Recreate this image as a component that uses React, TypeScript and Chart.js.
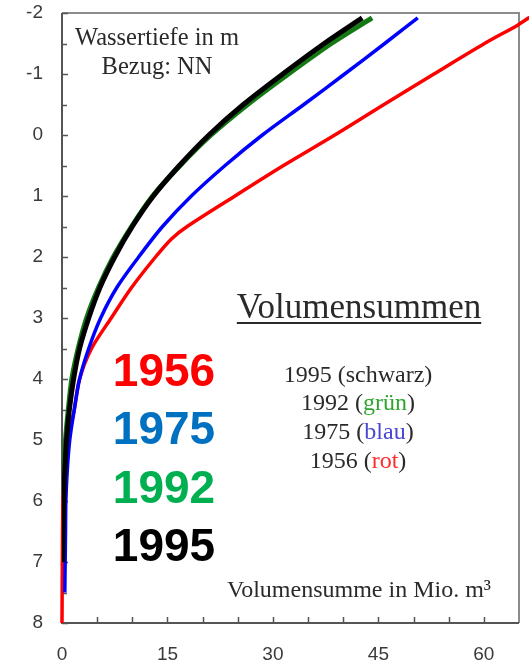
import React, { useEffect, useRef } from "react";
import { Chart, registerables } from "chart.js";

Chart.register(...registerables);

// Water depth (m, relative to NN) and cumulative volume (Mio. m³) per survey year
const depth1995 = [-1.92, -1.5, -1.0, -0.5, 0, 0.5, 1.0, 1.5, 2.0, 2.5, 3.0, 3.5, 4.0, 4.5, 5.0, 5.5, 6.0, 6.5, 7.0];
const volume1995 = [42.7, 37.3, 31.4, 25.8, 20.9, 16.7, 13.0, 10.0, 7.5, 5.4, 3.8, 2.5, 1.65, 1.05, 0.65, 0.4, 0.25, 0.15, 0.1];

const depth1992 = [-1.92, -1.5, -1.0, -0.5, 0, 0.5, 1.0, 1.5, 2.0, 2.5, 3.0, 3.5, 4.0, 4.5, 5.0, 5.5, 6.0];
const volume1992 = [44.1, 38.3, 32.2, 26.4, 21.2, 16.8, 12.9, 9.9, 7.3, 5.2, 3.5, 2.3, 1.4, 0.9, 0.5, 0.3, 0.15];

const depth1975 = [-1.92, -1.5, -1.0, -0.5, 0, 0.5, 1.0, 1.5, 2.0, 2.5, 3.0, 3.5, 4.0, 4.5, 5.0, 5.5, 6.0, 6.5, 7.0, 7.5];
const volume1975 = [50.6, 45.9, 40.2, 34.4, 28.5, 23.2, 18.4, 14.3, 10.9, 7.8, 5.5, 3.8, 2.5, 1.75, 1.1, 0.75, 0.55, 0.5, 0.45, 0.4];

const depth1956 = [-1.93, -1.8, -1.5, -1.0, -0.5, 0, 0.5, 1.0, 1.5, 1.7, 2.0, 2.5, 3.0, 3.5, 4.0, 4.5, 5.0, 5.5, 6.0, 7.0, 8.0];
const volume1956 = [66.5, 64.8, 60.1, 52.9, 45.8, 38.8, 31.5, 24.6, 17.8, 15.6, 13.3, 9.9, 7.0, 4.2, 2.5, 1.75, 0.9, 0.45, 0.15, 0.05, 0];

const xTickValues = [0, 15, 30, 45, 60];
const xMinorStep = 5;
const yMinorStep = 0.5;
const xMin = 0;
const xMax = 65;
const yMin = -2;
const yMax = 8;

const yearLabels = ["1956", "1975", "1992", "1995"];
const legendTitle = "Volumensummen";
const legendYears = ["1995", "1992", "1975", "1956"];
const legendNames = ["schwarz", "grün", "blau", "rot"];
const depthTitle = ["Wassertiefe in m", "Bezug: NN"];
const volumeTitle = "Volumensumme in Mio. m³";

const SERIF = '"Liberation Serif", "Times New Roman", serif';
const SANS = '"Liberation Sans", Arial, sans-serif';

const toPoints = (depths: number[], volumes: number[]) =>
  depths.map((d, i) => ({ x: volumes[i], y: d }));

const frameAndText = {
  id: "frameAndText",
  beforeDatasetsDraw(chart: any) {
    const { ctx, chartArea } = chart;
    const { left, right, top, bottom } = chartArea;
    const xs = chart.scales.x;
    const ys = chart.scales.y;
    ctx.save();
    // top and right border
    ctx.strokeStyle = "#8c8c8c";
    ctx.lineWidth = 2;
    ctx.beginPath();
    ctx.moveTo(left, top);
    ctx.lineTo(right, top);
    ctx.lineTo(right, bottom);
    ctx.stroke();
    // left and bottom axis lines
    ctx.strokeStyle = "#555";
    ctx.beginPath();
    ctx.moveTo(left, top);
    ctx.lineTo(left, bottom);
    ctx.lineTo(right, bottom);
    ctx.stroke();
    // inward tick marks
    ctx.lineWidth = 1.5;
    ctx.strokeStyle = "#555";
    ctx.beginPath();
    for (let v = yMin; v <= yMax + 1e-9; v += yMinorStep) {
      const py = Math.round(ys.getPixelForValue(v)) + 0.5;
      const major = Math.abs(v - Math.round(v)) < 1e-9;
      ctx.moveTo(left, py);
      ctx.lineTo(left + (major ? 6 : 5), py);
    }
    for (let v = xMin + xMinorStep; v < xMax; v += xMinorStep) {
      const px = Math.round(xs.getPixelForValue(v)) + 0.5;
      ctx.moveTo(px, bottom);
      ctx.lineTo(px, bottom - 6);
    }
    ctx.stroke();
    ctx.restore();
  },
  afterDraw(chart: any) {
    const { ctx } = chart;
    ctx.save();
    ctx.textBaseline = "alphabetic";

    // depth axis caption
    ctx.fillStyle = "#2a2a2a";
    ctx.font = `24.5px ${SERIF}`;
    ctx.textAlign = "center";
    ctx.fillText(depthTitle[0], 157, 45);
    ctx.fillText(depthTitle[1], 157, 74);

    // legend title with underline
    ctx.font = `35px ${SERIF}`;
    ctx.fillText(legendTitle, 359, 318);
    const tw = ctx.measureText(legendTitle).width;
    ctx.fillRect(359 - tw / 2, 322, tw, 2);

    // legend rows
    const nameColors = ["#2a2a2a", "#2fa52f", "#4747d0", "#ff2a2a"];
    const rowBase = [382, 410, 439, 468];
    ctx.font = `24px ${SERIF}`;
    ctx.textAlign = "left";
    legendYears.forEach((yr, i) => {
      const parts: [string, string][] = [
        [`${yr} (`, "#2a2a2a"],
        [legendNames[i], nameColors[i]],
        [")", "#2a2a2a"],
      ];
      const total = parts.reduce((w, [t]) => w + ctx.measureText(t).width, 0);
      let x = 358 - total / 2;
      for (const [t, c] of parts) {
        ctx.fillStyle = c;
        ctx.fillText(t, x, rowBase[i]);
        x += ctx.measureText(t).width;
      }
    });

    // volume axis caption
    ctx.fillStyle = "#2a2a2a";
    ctx.font = `24px ${SERIF}`;
    ctx.textAlign = "right";
    ctx.fillText(volumeTitle, 491, 597);

    // large year labels
    const yearColors = ["#ff0000", "#0070c0", "#00b050", "#000000"];
    const yearBase = [386, 444, 503, 561];
    ctx.font = `bold 46px ${SANS}`;
    ctx.textAlign = "center";
    yearLabels.forEach((t, i) => {
      ctx.fillStyle = yearColors[i];
      ctx.fillText(t, 164, yearBase[i]);
    });
    ctx.restore();
  },
};

export default function App() {
  const canvasRef = useRef<HTMLCanvasElement | null>(null);

  useEffect(() => {
    if (!canvasRef.current) return;
    const tickFont = { family: SANS, size: 19 };
    const chart = new Chart(canvasRef.current, {
      type: "scatter",
      data: {
        datasets: [
          {
            label: "1995",
            data: toPoints(depth1995, volume1995),
            borderColor: "#000000",
            borderWidth: 5,
            showLine: true,
            pointRadius: 0,
            tension: 0.3,
          },
          {
            label: "1992",
            data: toPoints(depth1992, volume1992),
            borderColor: "#137a13",
            borderWidth: 5,
            showLine: true,
            pointRadius: 0,
            tension: 0.3,
          },
          {
            label: "1975",
            data: toPoints(depth1975, volume1975),
            borderColor: "#0000ff",
            borderWidth: 3.5,
            showLine: true,
            pointRadius: 0,
            tension: 0.3,
          },
          {
            label: "1956",
            data: toPoints(depth1956, volume1956),
            borderColor: "#ff0000",
            borderWidth: 3.5,
            showLine: true,
            pointRadius: 0,
            tension: 0.3,
            clip: false,
          },
        ],
      },
      options: {
        responsive: false,
        animation: false,
        devicePixelRatio: 1,
        layout: { padding: { top: 13, right: 10, left: 0, bottom: 0 } },
        plugins: {
          legend: { display: false },
          tooltip: { enabled: false },
        },
        scales: {
          x: {
            type: "linear",
            min: xMin,
            max: xMax,
            grid: { display: false, drawTicks: false },
            border: { display: false },
            ticks: { font: tickFont, color: "#3a3a3a", padding: 20, maxRotation: 0 },
            afterBuildTicks: (s: any) => {
              s.ticks = xTickValues.map((v) => ({ value: v }));
            },
            afterFit: (s: any) => {
              s.height = 43;
              s.paddingLeft = 0;
              s.paddingRight = 0;
            },
          },
          y: {
            type: "linear",
            reverse: true,
            min: yMin,
            max: yMax,
            grid: { display: false, drawTicks: false },
            border: { display: false },
            ticks: { stepSize: 1, font: tickFont, color: "#3a3a3a", padding: 19 },
            afterFit: (s: any) => {
              s.width = 62;
              s.paddingTop = 0;
              s.paddingBottom = 0;
            },
          },
        },
      },
      plugins: [frameAndText],
    });
    return () => chart.destroy();
  }, []);

  return (
    <div style={{ position: "absolute", left: 0, top: 0, width: 529, height: 666, background: "#fff" }}>
      <canvas ref={canvasRef} width={529} height={666} style={{ display: "block" }} />
    </div>
  );
}
